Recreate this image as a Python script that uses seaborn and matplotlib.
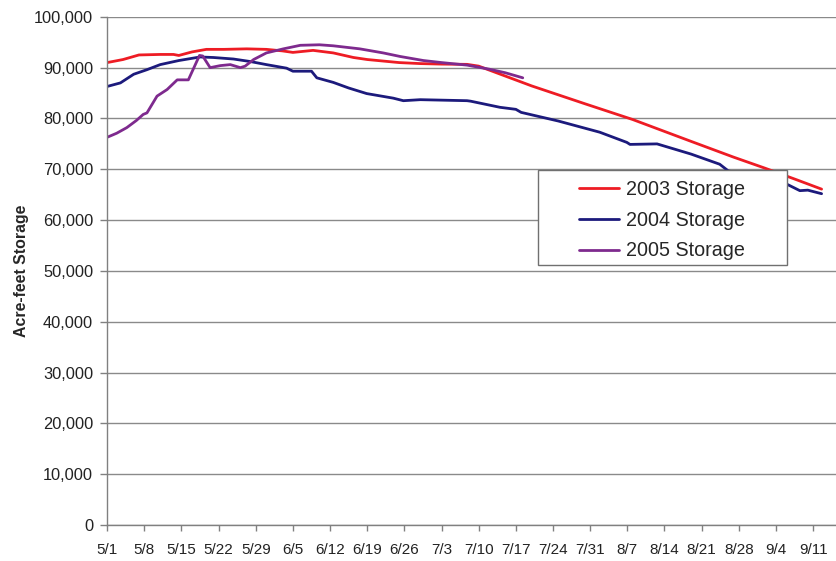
import pandas as pd
import seaborn as sns
import matplotlib.pyplot as plt
from matplotlib.patches import Rectangle

# days since 5/1
days_2003 = [0, 3, 6, 10, 12.5, 13.5, 16, 18.7, 22, 26.3, 30, 33, 35, 38.8, 42.6, 46.4, 49, 55, 59,
             63, 67.8, 70, 80, 90, 99, 110, 118, 124, 130, 134.6]
vals_2003 = [91000, 91600, 92500, 92600, 92600, 92400, 93100, 93600, 93600, 93700, 93600, 93300, 93000, 93400,
             92900, 92000, 91600, 91000, 90800, 90700, 90650, 90300, 86400, 82900, 79800, 75500, 72400, 70200,
             67900, 66100]

days_2004 = [0, 2.5, 5, 7.5, 10, 13.5, 17.5, 20, 23.8, 27, 30, 33.8, 35, 38.5, 39.5, 42.6, 45.5, 48.9, 53.9,
             55.8, 59, 67.8, 68.5, 74, 77, 78, 85, 92.8, 97.9, 98.5, 103.6, 110, 115.4, 117, 122, 128, 130.5,
             132, 134.6]
vals_2004 = [86300, 87000, 88700, 89600, 90600, 91400, 92100, 92000, 91700, 91200, 90600, 89900, 89300, 89300,
             88000, 87100, 86000, 84900, 84000, 83500, 83700, 83500, 83400, 82200, 81800, 81200, 79500, 77300,
             75300, 74900, 75000, 73000, 71000, 69700, 68500, 67100, 65800, 65900, 65200]

days_2005 = [0, 1.8, 3.7, 5.5, 6.8, 7.5, 9.4, 11.3, 13.2, 15.3, 17.4, 18, 19.4, 21.3, 23.2, 25.1, 26, 27.6, 30,
             33.2, 36.4, 40, 42.6, 47.6, 52, 55.2, 59.6, 63, 67.8, 72, 75, 78.3]
vals_2005 = [76300, 77100, 78200, 79600, 80800, 81100, 84400, 85700, 87600, 87600, 92400, 92300, 90000, 90400,
             90600, 90000, 90300, 91600, 92900, 93700, 94400, 94500, 94300, 93700, 92900, 92200, 91400, 91000,
             90500, 89700, 89000, 88000]

tick_days = list(range(0, 134, 7))
tick_labels = ["5/1", "5/8", "5/15", "5/22", "5/29", "6/5", "6/12", "6/19", "6/26", "7/3", "7/10", "7/17",
               "7/24", "7/31", "8/7", "8/14", "8/21", "8/28", "9/4", "9/11"]

series = ["2003 Storage", "2004 Storage", "2005 Storage"]
colors = ["#ee1c24", "#1c1a7c", "#7e2a8e"]

df = pd.concat(
    (
        pd.DataFrame({"day": days_2003, "storage": vals_2003, "series": series[0]}),
        pd.DataFrame({"day": days_2004, "storage": vals_2004, "series": series[1]}),
        pd.DataFrame({"day": days_2005, "storage": vals_2005, "series": series[2]}),
    ),
    ignore_index=True,
)

sns.set_style("white")
plt.rcParams["font.family"] = ["Liberation Sans", "DejaVu Sans"]

fig = plt.figure(figsize=(8.37, 5.61), dpi=100)
ax = fig.add_axes([0.128, 0.064, 0.872, 0.906])

sns.lineplot(data=df, x="day", y="storage", hue="series", palette=dict(zip(series, colors)),
             linewidth=2, sort=False, ax=ax)

ax.set_xlim(0, 137.5)
ax.set_ylim(0, 100000)
ax.set_yticks(range(0, 100001, 10000))
ax.set_yticklabels([f"{v:,}" for v in range(0, 100001, 10000)], fontsize=11.8, color="#222222")
ax.set_xticks(tick_days)
ax.set_xticklabels(tick_labels, fontsize=11, color="#222222")
ax.yaxis.grid(True, color="#8a8a8a", linewidth=1)
ax.set_axisbelow(True)
ax.set_xlabel("")
ax.set_ylabel("Acre-feet Storage", fontsize=11.4, fontweight="bold", labelpad=4)

for s in ["top", "right"]:
    ax.spines[s].set_visible(False)
for s in ["left", "bottom"]:
    ax.spines[s].set_color("#808080")
    ax.spines[s].set_linewidth(1)
ax.tick_params(axis="y", direction="out", length=5, color="#808080", width=1, left=True, pad=5)
ax.tick_params(axis="x", direction="out", length=4, color="#808080", width=1, bottom=True, pad=9)

# legend box drawn separately so it keeps the wide padding of the original
ax.add_patch(Rectangle((0.590, 0.512), 0.341, 0.187, transform=ax.transAxes, facecolor="white",
                       edgecolor="#707070", linewidth=1, zorder=4))
leg = ax.legend(loc="center", bbox_to_anchor=(0.760, 0.600), fontsize=14.2, frameon=False,
                handlelength=2.0, handletextpad=0.35, labelspacing=0.6)
leg.set_zorder(5)

fig.savefig("out.png", dpi=100)
